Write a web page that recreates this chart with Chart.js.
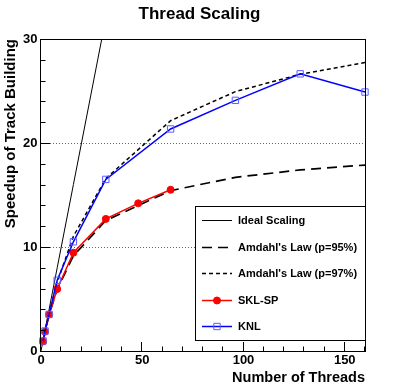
<!DOCTYPE html>
<html>
<head>
<meta charset="utf-8">
<title>Thread Scaling</title>
<script src="https://cdn.jsdelivr.net/npm/chart.js@4/dist/chart.umd.min.js"></script>
<style>
  html, body { margin: 0; padding: 0; background: #fff; }
  #wrap { width: 407px; height: 391px; }
</style>
</head>
<body>
<div id="wrap"><canvas id="scalingChart" width="407" height="391"></canvas></div>
<script>
// data
const idealThreads = [0, 1, 2, 4, 8, 16, 32];
const idealSpeedup = [0, 1, 2, 4, 8, 16, 32];
const amdahlThreads = [1, 2, 4, 8, 16, 32, 64, 96, 128, 160];
const amdahl95 = [1.00, 1.90, 3.48, 5.93, 9.14, 12.55, 15.42, 16.70, 17.41, 17.88];
const amdahl97 = [1.00, 1.94, 3.67, 6.61, 11.03, 16.58, 22.15, 24.94, 26.61, 27.73];
const sklThreads = [1, 2, 4, 8, 16, 32, 48, 64];
const sklSpeedup = [0.92, 1.86, 3.5, 5.96, 9.45, 12.7, 14.2, 15.5];
const knlThreads = [1, 2, 4, 8, 16, 32, 64, 96, 128, 160];
const knlSpeedup = [0.97, 1.92, 3.52, 6.8, 10.5, 16.5, 21.35, 24.1, 26.65, 24.9];
const seriesLabels = ['Ideal Scaling', "Amdahl's Law (p=95%)", "Amdahl's Law (p=97%)", 'SKL-SP', 'KNL'];
const xTickValues = [0, 50, 100, 150];
const yTickValues = [0, 10, 20, 30];

const FONT = '"Liberation Sans", Arial, Helvetica, sans-serif';
Chart.defaults.font.family = FONT;
Chart.defaults.color = '#000';

const toPoints = (xs, ys) => xs.map((x, i) => ({ x: x, y: ys[i] }));

// ROOT-like frame: inward ticks, dotted grid, legend box
const rootFrame = {
    id: 'rootFrame',
    beforeDatasetsDraw(chart) {
        const { ctx, chartArea: a, scales: { y } } = chart;
        ctx.save();
        ctx.strokeStyle = '#666';
        ctx.lineWidth = 1;
        ctx.setLineDash([1, 2]);
        yTickValues.forEach(v => {
            if (v === 0 || v === 30) return;
            const py = Math.round(y.getPixelForValue(v)) + 0.5;
            ctx.beginPath();
            ctx.moveTo(a.left, py);
            ctx.lineTo(a.right, py);
            ctx.stroke();
        });
        ctx.restore();
    },
    afterDatasetsDraw(chart) {
        const { ctx, chartArea: a, scales: { x, y } } = chart;
        ctx.save();
        ctx.setLineDash([]);
        ctx.lineWidth = 1;

        // frame
        ctx.strokeStyle = '#000';
        ctx.strokeRect(a.left - 0.5, a.top + 0.5, a.right - a.left + 1, a.bottom - a.top);

        // x ticks (inward from bottom)
        ctx.beginPath();
        for (let v = 0; v <= 160; v += 10) {
            const px = Math.round(x.getPixelForValue(v)) - 0.5;
            const len = v % 50 === 0 ? 9 : 4.5;
            ctx.moveTo(px, a.bottom);
            ctx.lineTo(px, a.bottom - len);
        }
        // y ticks (inward from left)
        for (let v = 0; v <= 30; v += 2) {
            const py = Math.round(y.getPixelForValue(v)) + 0.5;
            const len = v % 10 === 0 ? 9 : 4.5;
            ctx.moveTo(a.left, py);
            ctx.lineTo(a.left + len, py);
        }
        ctx.stroke();

        // legend
        const box = { left: 195.5, top: 206.5, right: 365.5, bottom: 340.5 };
        ctx.fillStyle = '#fff';
        ctx.fillRect(box.left, box.top, box.right - box.left, box.bottom - box.top);
        ctx.strokeStyle = '#000';
        ctx.strokeRect(box.left, box.top, box.right - box.left, box.bottom - box.top);

        ctx.font = 'bold 11px ' + FONT;
        ctx.textBaseline = 'middle';
        ctx.textAlign = 'left';
        chart.data.datasets.forEach((ds, i) => {
            const cy = Math.round(220 + i * 26.5) + 0.5;
            ctx.strokeStyle = ds.borderColor;
            ctx.lineWidth = ds.borderWidth;
            ctx.setLineDash(ds.borderDash || []);
            ctx.beginPath();
            ctx.moveTo(202, cy);
            ctx.lineTo(232, cy);
            ctx.stroke();
            ctx.setLineDash([]);
            if (ds.pointRadius > 0) {
                ctx.fillStyle = ds.pointBackgroundColor;
                ctx.strokeStyle = ds.pointBorderColor;
                ctx.lineWidth = ds.pointBorderWidth;
                Chart.helpers.drawPoint(ctx, {
                    pointStyle: ds.pointStyle,
                    radius: ds.pointRadius,
                    rotation: 0,
                    borderWidth: ds.pointBorderWidth
                }, 217, cy);
            }
            ctx.fillStyle = '#000';
            ctx.fillText(ds.label, 238, cy);
        });
        ctx.restore();
    }
};

new Chart(document.getElementById('scalingChart'), {
    type: 'line',
    data: {
        datasets: [
            {
                label: seriesLabels[0],
                data: toPoints(idealThreads, idealSpeedup),
                borderColor: '#000',
                borderWidth: 1,
                pointRadius: 0,
                clip: 0,
                order: 5
            },
            {
                label: seriesLabels[1],
                data: toPoints(amdahlThreads, amdahl95),
                borderColor: '#000',
                borderWidth: 1.7,
                borderDash: [10, 6],
                pointRadius: 0,
                order: 4
            },
            {
                label: seriesLabels[2],
                data: toPoints(amdahlThreads, amdahl97),
                borderColor: '#000',
                borderWidth: 1.5,
                borderDash: [4, 3],
                pointRadius: 0,
                order: 3
            },
            {
                label: seriesLabels[3],
                data: toPoints(sklThreads, sklSpeedup),
                borderColor: '#ff0000',
                borderWidth: 1.5,
                pointStyle: 'circle',
                pointRadius: 3.5,
                pointBackgroundColor: '#ff0000',
                pointBorderColor: '#ff0000',
                pointBorderWidth: 1,
                clip: false,
                order: 2
            },
            {
                label: seriesLabels[4],
                data: toPoints(knlThreads, knlSpeedup),
                borderColor: '#0000ff',
                borderWidth: 1.5,
                pointStyle: 'rect',
                pointRadius: 4.5,
                pointBackgroundColor: 'rgba(0,0,0,0)',
                pointBorderColor: '#5c5cff',
                pointBorderWidth: 1,
                clip: false,
                order: 1
            }
        ]
    },
    options: {
        responsive: false,
        animation: false,
        events: [],
        layout: { padding: { left: 0, right: 8, top: 0, bottom: 0 } },
        elements: { line: { tension: 0 } },
        plugins: {
            legend: { display: false },
            tooltip: { enabled: false },
            title: {
                display: true,
                text: 'Thread Scaling',
                font: { size: 17, weight: 'bold' },
                color: '#000',
                padding: { top: 4, bottom: 14.6 }
            }
        },
        scales: {
            x: {
                type: 'linear',
                min: 0,
                max: 160,
                afterBuildTicks: s => { s.ticks = xTickValues.map(v => ({ value: v })); },
                afterFit: s => { s.height = 40; },
                grid: { display: false, drawTicks: false },
                border: { display: false },
                ticks: { font: { size: 13, weight: 'bold' }, padding: 2, maxRotation: 0 },
                title: {
                    display: true,
                    text: 'Number of Threads',
                    align: 'end',
                    font: { size: 14.5, weight: 'bold' },
                    padding: { top: 0, bottom: 4.8 }
                }
            },
            y: {
                type: 'linear',
                min: 0,
                max: 30,
                afterBuildTicks: s => { s.ticks = yTickValues.map(v => ({ value: v })); },
                afterFit: s => { s.width = 41; },
                grid: { display: false, drawTicks: false },
                border: { display: false },
                ticks: { font: { size: 13, weight: 'bold' }, padding: 3.5 },
                title: {
                    display: true,
                    text: 'Speedup of Track Building',
                    align: 'end',
                    font: { size: 15, weight: 'bold' },
                    padding: { top: 2, bottom: 0 }
                }
            },
            yRight: {
                type: 'linear',
                position: 'right',
                display: true,
                afterFit: s => { s.width = 34; },
                grid: { display: false, drawTicks: false },
                border: { display: false },
                ticks: { display: false }
            }
        }
    },
    plugins: [rootFrame]
});
</script>
</body>
</html>
